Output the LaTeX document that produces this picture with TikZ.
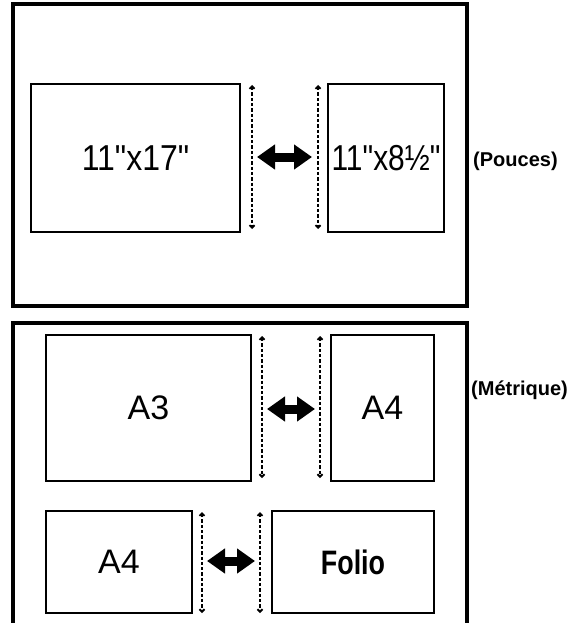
\documentclass[tikz,border=0pt]{standalone}
\usepackage{fontspec}
\setmainfont{Liberation Sans}
\usetikzlibrary{arrows.meta,positioning,calc}

\begin{document}
\begin{tikzpicture}[x=1pt, y=-1pt,
  frame/.style={line width=3.2pt},
  sheet/.style={draw, line width=2.3pt, inner sep=0pt, font=\fontsize{34}{38}\selectfont},
  guide/.style={line width=1.8pt, dash pattern=on 3.3pt off 2pt,
    {Straight Barb[length=2.5pt,width=5pt]}-{Straight Barb[length=2.5pt,width=5pt]}},
  swap/.style={line width=9pt, {Triangle[length=18pt,width=24pt]}-{Triangle[length=18pt,width=24pt]}},
  unit/.style={anchor=west, inner sep=0pt, font=\fontsize{20}{22}\selectfont\bfseries}]
\useasboundingbox (0,0) rectangle (588,623);
% inches
\draw[frame] (13,4) rectangle (467,306);
\node[sheet, minimum width=209pt, minimum height=148pt] (tab17) at (135.5,158) {\scalebox{0.94}[1.06]{11\textquotedbl x17\textquotedbl}};
\node[sheet, minimum width=116pt, minimum height=148pt] (let85) at (386,158) {\scalebox{0.88}[1.06]{11\textquotedbl x8½\textquotedbl}};
\coordinate (g1t) at (252,85);
\coordinate (g1b) at (252,229);
\coordinate (g2t) at (318,85);
\coordinate (g2b) at (318,229);
\draw[guide] (g1t) -- (g1b);
\draw[guide] (g2t) -- (g2b);
\coordinate (s1l) at (257,157);
\coordinate (s1r) at (312,157);
\draw[swap] (s1l) -- (s1r);
\node[unit] (pouces) at (473,161) {(Pouces)};
% metric
\draw[frame] (13,630) -- (13,323) -- (467,323) -- (467,630);
\node[sheet, minimum width=205pt, minimum height=146pt] (a3) at (148.5,408) {A3};
\node[sheet, minimum width=103pt, minimum height=146pt] (a4r) at (382.5,408) {A4};
\coordinate (g3t) at (262,336);
\coordinate (g3b) at (262,478);
\coordinate (g4t) at (320,336);
\coordinate (g4b) at (320,478);
\draw[guide] (g3t) -- (g3b);
\draw[guide] (g4t) -- (g4b);
\coordinate (s2l) at (267,409);
\coordinate (s2r) at (315,409);
\draw[swap] (s2l) -- (s2r);
\node[unit] (metrique) at (471,390) {(Métrique)};
\node[sheet, minimum width=146pt, minimum height=102pt] (a4l) at (119,562) {A4};
\node[sheet, minimum width=162pt, minimum height=102pt, font=\fontsize{32}{36}\selectfont\bfseries] (folio) at (353,562) {\scalebox{0.84}[1.06]{Folio}};
\coordinate (g5t) at (202,512);
\coordinate (g5b) at (202,613);
\coordinate (g6t) at (260,512);
\coordinate (g6b) at (260,613);
\draw[guide] (g5t) -- (g5b);
\draw[guide] (g6t) -- (g6b);
\coordinate (s3l) at (207,561);
\coordinate (s3r) at (255,561);
\draw[swap] (s3l) -- (s3r);
\end{tikzpicture}
\end{document}
